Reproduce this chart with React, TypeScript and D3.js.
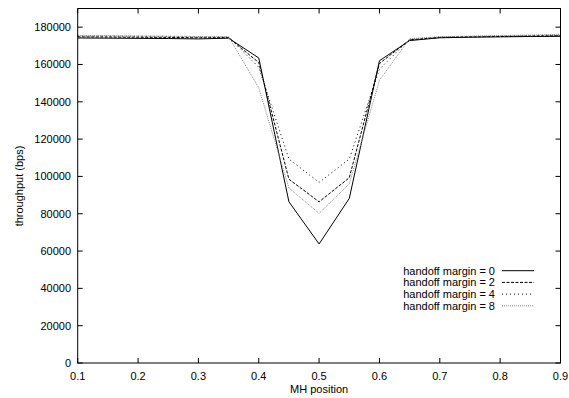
import React, { useEffect, useRef } from 'react';
import * as d3 from 'd3';

const positions = [0.1, 0.15, 0.2, 0.25, 0.3, 0.35, 0.4, 0.45, 0.5, 0.55, 0.6, 0.65, 0.7, 0.75, 0.8, 0.85, 0.9];

const margin0 = [174200, 174100, 174000, 173900, 173700, 174100, 163500, 86400, 63800, 88200, 162000, 172800, 174300, 174600, 174800, 175000, 175100];
const margin2 = [174800, 174700, 174600, 174500, 174300, 174400, 161000, 98500, 86400, 99300, 160500, 173200, 174500, 174800, 175000, 175200, 175400];
const margin4 = [175300, 175200, 175100, 175000, 174800, 174700, 158500, 109300, 96800, 109300, 157500, 173500, 174700, 175000, 175300, 175500, 175800];
const margin8 = [175600, 175500, 175300, 175200, 175000, 174900, 147500, 93800, 80200, 96000, 151500, 173800, 174900, 175200, 175500, 175800, 176200];

const seriesLabels = ['handoff margin = 0', 'handoff margin = 2', 'handoff margin = 4', 'handoff margin = 8'];
const xTicks = [0.1, 0.2, 0.3, 0.4, 0.5, 0.6, 0.7, 0.8, 0.9];
const yTicks = [0, 20000, 40000, 60000, 80000, 100000, 120000, 140000, 160000, 180000];

const styles = [
  { stroke: '#000', dash: null },
  { stroke: '#000', dash: '3,1.5' },
  { stroke: '#000', dash: '1,3' },
  { stroke: '#888', dash: '1,1' },
];

const App = () => {
  const svgRef = useRef(null);
  const width = 569;
  const height = 398;

  useEffect(() => {
    const svg = d3.select(svgRef.current);
    svg.selectAll('*').remove();

    const left = 77.7;
    const right = 560.5;
    const top = 8.5;
    const bottom = 363;
    const font = 'Liberation Sans, Arial, sans-serif';

    const x = d3.scaleLinear().domain([0.1, 0.9]).range([left, right]);
    const y = d3.scaleLinear().domain([0, 190000]).range([bottom, top]);

    const series = [margin0, margin2, margin4, margin8];
    const line = d3
      .line()
      .x((d) => x(d[0]))
      .y((d) => y(d[1]));

    series.forEach((vals, i) => {
      svg
        .append('path')
        .datum(positions.map((p, j) => [p, vals[j]]))
        .attr('d', line)
        .attr('fill', 'none')
        .attr('stroke', styles[i].stroke)
        .attr('stroke-width', 1)
        .attr('stroke-dasharray', styles[i].dash);
    });

    // ticks, inward on all four sides
    const tick = 5;
    xTicks.forEach((t) => {
      svg.append('line').attr('x1', x(t)).attr('x2', x(t)).attr('y1', bottom).attr('y2', bottom - tick).attr('stroke', '#000');
      svg.append('line').attr('x1', x(t)).attr('x2', x(t)).attr('y1', top).attr('y2', top + tick).attr('stroke', '#000');
      svg
        .append('text')
        .attr('x', x(t))
        .attr('y', 380)
        .attr('text-anchor', 'middle')
        .attr('font-family', font)
        .attr('font-size', 11)
        .text(t.toFixed(1));
    });
    yTicks.forEach((t) => {
      svg.append('line').attr('x1', left).attr('x2', left + tick).attr('y1', y(t)).attr('y2', y(t)).attr('stroke', '#000');
      svg.append('line').attr('x1', right).attr('x2', right - tick).attr('y1', y(t)).attr('y2', y(t)).attr('stroke', '#000');
      svg
        .append('text')
        .attr('x', 71)
        .attr('y', y(t) + 4)
        .attr('text-anchor', 'end')
        .attr('font-family', font)
        .attr('font-size', 11)
        .text(t);
    });

    svg
      .append('rect')
      .attr('x', left)
      .attr('y', top)
      .attr('width', right - left)
      .attr('height', bottom - top)
      .attr('fill', 'none')
      .attr('stroke', '#000')
      .attr('stroke-width', 1);

    svg
      .append('text')
      .attr('x', (left + right) / 2)
      .attr('y', 393)
      .attr('text-anchor', 'middle')
      .attr('font-family', font)
      .attr('font-size', 11)
      .text('MH position');

    svg
      .append('text')
      .attr('transform', 'translate(23,186) rotate(-90)')
      .attr('text-anchor', 'middle')
      .attr('font-family', font)
      .attr('font-size', 11)
      .text('throughput (bps)');

    // legend
    seriesLabels.forEach((lab, i) => {
      const cy = 270.7 + i * 11.7;
      svg
        .append('text')
        .attr('x', 495)
        .attr('y', cy + 4)
        .attr('text-anchor', 'end')
        .attr('font-family', font)
        .attr('font-size', 11)
        .text(lab);
      svg
        .append('line')
        .attr('x1', 502)
        .attr('x2', 534)
        .attr('y1', cy)
        .attr('y2', cy)
        .attr('stroke', styles[i].stroke)
        .attr('stroke-dasharray', styles[i].dash);
    });
  }, []);

  return (
    <svg
      ref={svgRef}
      width={width}
      height={height}
      style={{ position: 'absolute', left: 0, top: 0, background: '#fff' }}
    />
  );
};

export default App;
